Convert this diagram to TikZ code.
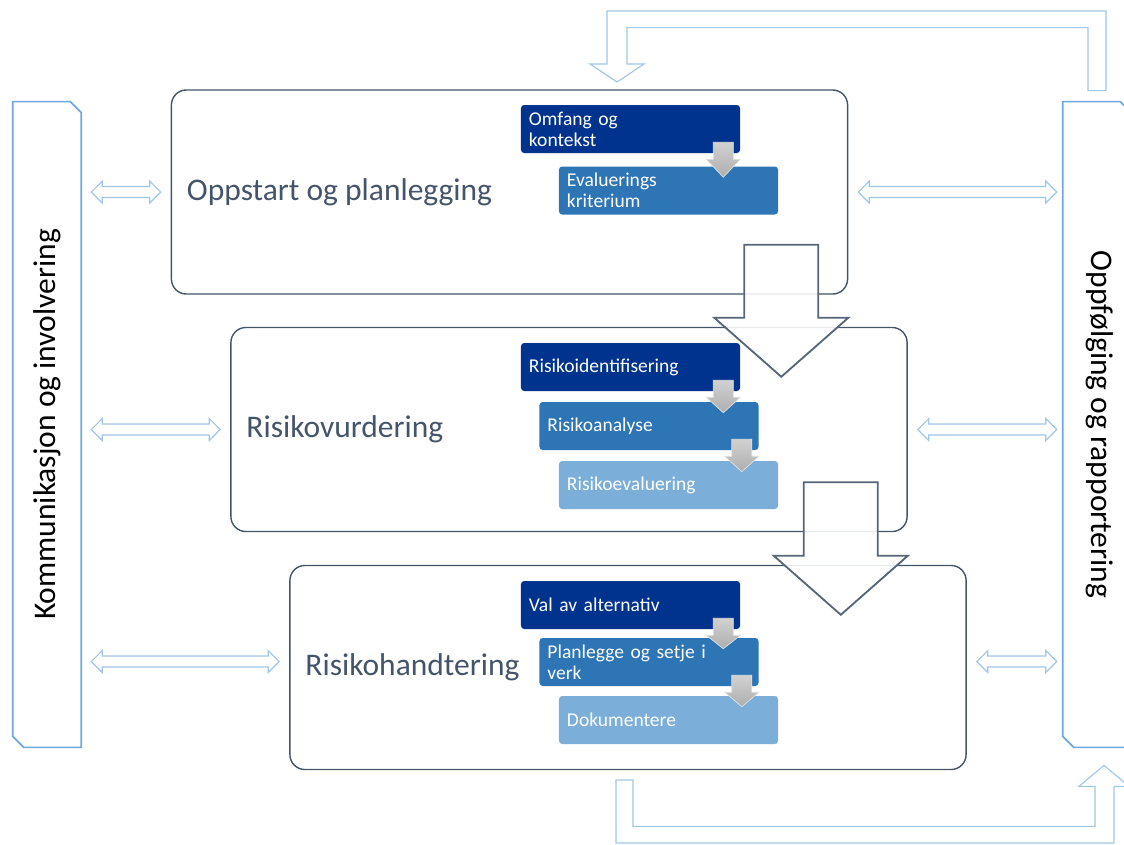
\documentclass[tikz,border=0pt]{standalone}
\usepackage{fontspec}
\setmainfont{Carlito}
\usepackage{tikz}
\usetikzlibrary{calc,positioning}

\definecolor{navybox}{RGB}{0,51,141}
\definecolor{midbox}{RGB}{46,117,182}
\definecolor{lightbox}{RGB}{123,175,217}
\definecolor{slate}{RGB}{68,84,106}
\definecolor{barblue}{RGB}{111,168,220}
\definecolor{linkblue}{RGB}{160,198,232}

% hollow double arrow between two points on one line
\newcommand{\dblarrow}[2]{%
  \draw[linkarrow] (#1) -- ($(#1)+(11,-11)$) -- ($(#1)+(11,-5.5)$) -- ($(#2)+(-11,-5.5)$)
    -- ($(#2)+(-11,-11)$) -- (#2) -- ($(#2)+(-11,11)$) -- ($(#2)+(-11,5.5)$)
    -- ($(#1)+(11,5.5)$) -- ($(#1)+(11,11)$) -- cycle;}
% small grey arrow from one step box into the next
\newcommand{\steparrow}[2]{%
  \coordinate (sa) at ($(#1.south east)+(-17,0)$);
  \draw[steptip] ($(sa)+(-10,-11)$) -- ($(sa)+(10,-11)$) -- ($(sa)+(10,6)$) -- ($(sa)+(17,6)$)
    -- ($(sa |- #2.north)+(0,11)$) -- ($(sa)+(-17,6)$) -- ($(sa)+(-10,6)$) -- cycle;}
% big outlined arrow from one stage to the next
\newcommand{\bigarrow}[2]{%
  \coordinate (ba) at ($(#1.south east)+(-67,0)$);
  \coordinate (bt) at ($(ba |- #2.north)+(0,50)$);
  \draw[bigtip] ($(ba)+(-37,-50)$) -- ($(ba)+(37,-50)$) -- ($(bt)+(37,-59)$) -- ($(bt)+(67,-59)$)
    -- (bt) -- ($(bt)+(-67,-59)$) -- ($(bt)+(-37,-59)$) -- cycle;}
% side bar outline with two cut corners
\newcommand{\barframe}[1]{%
  \draw[barline] (#1.north west) -- ($(#1.north east)+(-11,0)$) -- ($(#1.north east)+(0,11)$)
    -- (#1.south east) -- ($(#1.south west)+(11,0)$) -- ($(#1.south west)+(0,-11)$) -- cycle;}

\begin{document}
\begin{tikzpicture}[x=0.025cm, y=-0.025cm,
  stagebox/.style={draw=slate, line width=1pt, rounded corners=0.375cm,
    minimum width=16.9cm, minimum height=5.1cm},
  stagetitle/.style={inner sep=0, text=slate, font=\fontsize{22.4}{26}\selectfont},
  stepbox/.style={rounded corners=0.08cm, text=white, text width=5.075cm, align=left,
    inner xsep=0.2cm, inner ysep=0, minimum height=1.2cm, font=\fontsize{13.9}{15}\selectfont},
  sidebar/.style={minimum width=1.7cm, minimum height=16.125cm},
  bartext/.style={font=\fontsize{22.4}{26}\selectfont},
  barline/.style={draw=barblue, line width=1.2pt},
  linkarrow/.style={draw=linkblue, line width=0.8pt, fill=white},
  loopline/.style={draw=linkblue, line width=0.8pt},
  steptip/.style={draw=black!12, line width=0.5pt, top color=black!18, bottom color=black!32},
  bigtip/.style={draw=slate!90, line width=1.3pt, fill=white, fill opacity=0.88}]
\useasboundingbox (0,0) rectangle (1124,844);

% side bars
\node[sidebar] (lbar) at (47,424.5) {};
\barframe{lbar}
\node[bartext, rotate=90] (ltext) at (lbar) {Kommunikasjon og involvering};
\node[sidebar] (rbar) at (1097,424.5) {};
\barframe{rbar}
\node[bartext, rotate=-90] (rtext) at ($(rbar)+(3,0)$) {Oppfølging og rapportering};

% stages
\node[stagebox] (box1) at (509.5,192) {};
\node[stagebox] (box2) at (569,429.5) {};
\node[stagebox] (box3) at (628,667.5) {};

\bigarrow{box1}{box2}
\bigarrow{box2}{box3}

\node[stagetitle, right=0.4cm of box1.west] (title1) {Oppstart og planlegging};
\node[stagetitle, right=0.4cm of box2.west] (title2) {Risikovurdering};
\node[stagetitle, right=0.4cm of box3.west] (title3) {Risikohandtering};

% steps
\node[stepbox, fill=navybox] (omfang) at (630.5,129) {Omfang og\\kontekst};
\node[stepbox, fill=midbox] (kriterium) at (668.5,190.5) {Evaluerings\\kriterium};
\steparrow{omfang}{kriterium}

\node[stepbox, fill=navybox] (ident) at (630.5,367) {Risikoidentifisering};
\node[stepbox, fill=midbox] (analyse) at (649,426) {Risikoanalyse};
\node[stepbox, fill=lightbox] (evaluer) at (668.5,485) {Risikoevaluering};
\steparrow{ident}{analyse}
\steparrow{analyse}{evaluer}

\node[stepbox, fill=navybox] (val) at (630.5,605) {Val av alternativ};
\node[stepbox, fill=midbox] (verk) at (649,662) {Planlegge og setje i\\verk};
\node[stepbox, fill=lightbox] (dok) at (668.5,720) {Dokumentere};
\steparrow{val}{verk}
\steparrow{verk}{dok}

% links to the side bars
\foreach \n/\dy in {1/0,2/0,3/-6}{
  \coordinate (la) at ($(lbar.east |- box\n.west)+(10,\dy)$);
  \coordinate (lb) at ($(box\n.west)+(-10,\dy)$);
  \dblarrow{la}{lb}
  \coordinate (ra) at ($(box\n.east)+(10,\dy)$);
  \coordinate (rb) at ($(rbar.west |- box\n.east)+(-6,\dy)$);
  \dblarrow{ra}{rb}
}

% feedback loops
\coordinate (topstart) at ($(rbar.north)+(0,-11)$);
\coordinate (toptip) at (617,82);
\draw[loopline] ($(topstart)+(9,0)$) |- ($(toptip)+(-10,-71)$) -- ++(0,53) -- ++(-17,0)
  -- (toptip) -- ++(27,-18) -- ++(-17,0) |- ($(topstart)+(-9,-63)$) -- ++(0,63) -- cycle;
\coordinate (botstart) at (624.5,780);
\coordinate (bottip) at ($(rbar.south)+(7,18)$);
\draw[loopline] ($(botstart)+(-8.5,0)$) -- ++(17,0) |- ($(bottip)+(-9,61)$) -- ++(0,-40) -- ++(-16,0)
  -- (bottip) -- ++(25,21) -- ++(-15,0) |- ($(botstart)+(-8.5,63)$) -- cycle;
\end{tikzpicture}
\end{document}
